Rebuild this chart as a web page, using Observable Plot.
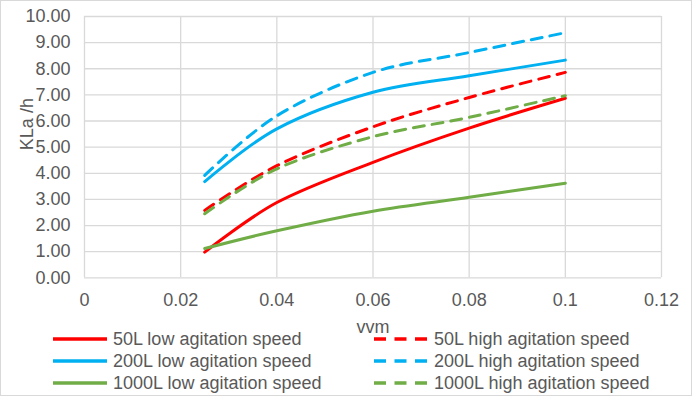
<!DOCTYPE html>
<html>
<head>
<meta charset="utf-8">
<script src="https://cdn.jsdelivr.net/npm/d3@7"></script>
<script src="https://cdn.jsdelivr.net/npm/@observablehq/plot@0.6"></script>
<style>
  html, body { margin: 0; padding: 0; background: #fff; }
  #wrap { position: relative; width: 692px; height: 396px; overflow: hidden; font-family: "Liberation Sans", Arial, sans-serif; color: #595959; }
  #border { position: absolute; left: 0; top: 0; width: 692px; height: 396px; box-sizing: border-box; border: 1px solid #d9d9d9; pointer-events: none; }
  #legend { position: absolute; left: 0; top: 328px; width: 692px; font-size: 18px; }
  .item { position: absolute; height: 22px; display: flex; align-items: center; white-space: nowrap; }
  .item svg { margin-right: 6px; }
</style>
</head>
<body>
<div id="wrap"><div id="chart"></div><div id="legend"></div><div id="border"></div></div>
<script>
// x values (vvm)
const vvm = [0.025, 0.04, 0.06, 0.08, 0.1];
// KLa (/h) per series
const low50 = [0.98, 2.88, 4.42, 5.73, 6.87];
const high50 = [2.58, 4.29, 5.78, 6.9, 7.86];
const low200 = [3.68, 5.7, 7.1, 7.73, 8.33];
const high200 = [3.92, 6.2, 7.86, 8.62, 9.38];
const low1000 = [1.12, 1.8, 2.55, 3.08, 3.62];
const high1000 = [2.45, 4.17, 5.4, 6.14, 6.97];

const seriesNames = [
  "50L low agitation speed", "50L high agitation speed",
  "200L low agitation speed", "200L high agitation speed",
  "1000L low agitation speed", "1000L high agitation speed"
];
const seriesValues = [low50, high50, low200, high200, low1000, high1000];
const seriesColors = ["#FF0000", "#FF0000", "#00B0F0", "#00B0F0", "#70AD47", "#70AD47"];
const seriesDashed = [false, true, false, true, false, true];

const xTicks = [0, 0.02, 0.04, 0.06, 0.08, 0.1, 0.12];
const xTickLabels = ["0", "0.02", "0.04", "0.06", "0.08", "0.1", "0.12"];
const yTicks = [0, 1, 2, 3, 4, 5, 6, 7, 8, 9, 10];
const xTitle = "vvm";
const yTitle = "KLa /h";

const DASH = "11,8";

const lineMarks = seriesNames.map((name, i) => {
  const rows = vvm.map((x, j) => ({x, y: seriesValues[i][j], series: name}));
  return Plot.line(rows, {
    x: "x", y: "y",
    stroke: seriesColors[i],
    strokeWidth: 3,
    strokeDasharray: seriesDashed[i] ? DASH : null,
    curve: "cardinal",
    tension: 0
  });
});

const chart = Plot.plot({
  width: 692,
  height: 396,
  marginLeft: 84,
  marginRight: 31,
  marginTop: 16,
  marginBottom: 118.7,
  style: {fontFamily: '"Liberation Sans", Arial, sans-serif', fontSize: "18px", color: "#595959", background: "transparent"},
  x: {domain: [0, 0.12]},
  y: {domain: [0, 10]},
  marks: [
    Plot.ruleX(xTicks, {stroke: "#d9d9d9", strokeWidth: 1.3}),
    Plot.ruleY(yTicks, {stroke: "#d9d9d9", strokeWidth: 1.3}),
    Plot.axisX(xTicks, {tickSize: 0, tickPadding: 15, tickFormat: (d, i) => xTickLabels[i], label: null}),
    Plot.axisY(yTicks, {tickSize: 0, tickPadding: 14, tickFormat: d => d.toFixed(2), label: null}),
    ...lineMarks,
    Plot.text([yTitle], {frameAnchor: "left", dx: -57, dy: 3, rotate: -90, fontSize: 18}),
    Plot.text([xTitle], {frameAnchor: "bottom", dy: 55, fontSize: 18})
  ]
});
document.getElementById("chart").appendChild(chart);

// Legend
const legend = document.getElementById("legend");
const colX = [53, 374];
const rowY = [0, 22, 44];
seriesNames.forEach((name, i) => {
  const col = i % 2, row = Math.floor(i / 2);
  const item = document.createElement("div");
  item.className = "item";
  item.style.left = colX[col] + "px";
  item.style.top = rowY[row] + "px";
  const sw = d3.create("svg").attr("width", 54).attr("height", 6);
  sw.append("line").attr("x1", 0).attr("x2", 54).attr("y1", 3).attr("y2", 3)
    .attr("stroke", seriesColors[i]).attr("stroke-width", 3.5)
    .attr("stroke-dasharray", seriesDashed[i] ? "12,8.5" : null);
  item.appendChild(sw.node());
  const t = document.createElement("span");
  t.textContent = name;
  item.appendChild(t);
  legend.appendChild(item);
});
</script>
</body>
</html>
